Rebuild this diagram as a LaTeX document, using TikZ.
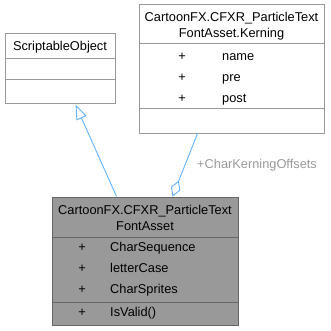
\documentclass[tikz,border=0pt]{standalone}
\usepackage{fontspec}
\setmainfont{Liberation Sans}
\usetikzlibrary{arrows.meta,calc}
\definecolor{edgeblue}{RGB}{99,179,255}
\definecolor{boxline}{RGB}{153,153,153}
\definecolor{mainline}{RGB}{102,102,102}
\definecolor{mainfill}{RGB}{153,153,153}
\tikzset{
  x=1pt, y=-1pt,
  umlbox/.style={draw=boxline, fill=white, line width=1pt, inner sep=0pt},
  mainbox/.style={draw=mainline, fill=mainfill, line width=1pt, inner sep=0pt},
  txt/.style={font=\fontsize{12.8}{14}\selectfont, inner sep=0pt, text height=9pt, text depth=2.5pt},
  lbl/.style={txt, text=boxline},
  conn/.style={draw=edgeblue, line width=0.9pt}
}
\begin{document}
\begin{tikzpicture}
\useasboundingbox (0,0) rectangle (330,331);

% ScriptableObject
\node[umlbox, minimum width=110pt, minimum height=70pt] (so) at (60,69) {};
\draw[boxline, line width=1pt] (5,59) -- (115,59) (5,80) -- (115,80);
\node[txt] (sot) at (60,47) {ScriptableObject};

% Kerning struct
\node[umlbox, minimum width=185pt, minimum height=128pt] (ker) at (231.5,69) {};
\draw[boxline, line width=1pt] (139,44) -- (324,44) (139,109) -- (324,109);
\node[txt] (kt1) at (231.5,18) {CartoonFX.CFXR\_ParticleText};
\node[txt] (kt2) at (231.5,34) {FontAsset.Kerning};
\node[txt] (kp1) at (182,57) {+};
\node[txt] (kp2) at (182,78) {+};
\node[txt] (kp3) at (182,99) {+};
\node[txt, anchor=west] (ka1) at (222,57) {name};
\node[txt, anchor=west] (ka2) at (222,78) {pre};
\node[txt, anchor=west] (ka3) at (222,99) {post};

% Main class
\node[mainbox, minimum width=186pt, minimum height=128pt] (main) at (145,261) {};
\draw[mainline, line width=1pt] (52,237) -- (238,237) (52,302) -- (238,302);
\node[txt] (mt1) at (145,211) {CartoonFX.CFXR\_ParticleText};
\node[txt] (mt2) at (145,227) {FontAsset};
\node[txt] (mp1) at (82,248) {+};
\node[txt] (mp2) at (82,269) {+};
\node[txt] (mp3) at (82,290) {+};
\node[txt] (mp4) at (82,313) {+};
\node[txt, anchor=west] (ma1) at (110,248) {CharSequence};
\node[txt, anchor=west] (ma2) at (110,269) {letterCase};
\node[txt, anchor=west] (ma3) at (110,290) {CharSprites};
\node[txt, anchor=west] (mm1) at (110,313) {IsValid()};

% Inheritance
\draw[conn, -{Triangle[open, length=15pt, width=11pt, fill=white]}]
  ($(main.north west)+(65,0)$) -- ($(so.south west)+(71,0)$);

% Aggregation
\draw[conn, {Diamond[open, length=17pt, width=10pt, fill=white]}-]
  ($(main.north west)+(121,0)$) -- ($(ker.south west)+(59,0)$);
\node[lbl, anchor=west] (agl) at (197,165) {+CharKerningOffsets};
\end{tikzpicture}
\end{document}
